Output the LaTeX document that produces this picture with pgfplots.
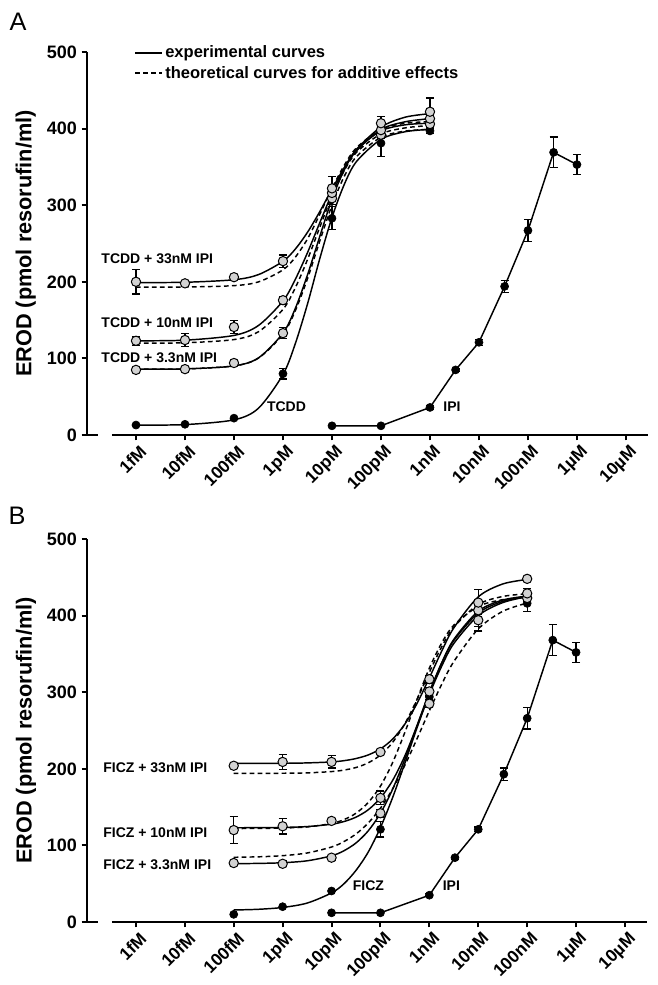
\documentclass[border=0pt]{standalone}
\usepackage{fontspec}
\setmainfont{Liberation Sans}
\usepackage{pgfplots}
\pgfplotsset{compat=1.18}

\pgfplotsset{
  erod/.style={
    scale only axis, height=287.25pt,
    xmin=-16, xmax=-4.55, ymin=0, ymax=500,
    axis lines=left, axis line style={-, line width=1.5pt},
    x axis line style={draw=none},
    tick align=outside, major tick length=4pt,
    tick style={line width=1.5pt, black},
    xtick={-15,...,-5},
    xticklabels={1fM,10fM,100fM,1pM,10pM,100pM,1nM,10nM,100nM,1µM,10µM},
    ytick={0,100,...,500},
    xticklabel style={font=\bfseries\fontsize{13}{13}\selectfont, rotate=45, anchor=north east, xshift=3pt},
    yticklabel style={font=\bfseries\fontsize{13.5}{14}\selectfont},
    /pgf/number format/assume math mode=true,
    ylabel={EROD (pmol resorufin/ml)},
    every axis y label/.style={at={(axis description cs:-0.109,0.5)}, rotate=90, anchor=center,
      font=\bfseries\fontsize{16.3}{19}\selectfont},
    clip=false,
  },
  expc/.style={smooth, no marks, line width=1.1pt, black},
  theo/.style={smooth, no marks, line width=1.1pt, black, dash pattern=on 3.5pt off 2.5pt},
  blk/.style={only marks, mark=*, mark size=3pt, mark options={fill=black, draw=black, line width=0.5pt},
    error bars/.cd, y dir=both, y explicit, error bar style={line width=0.9pt, black},
    error mark options={rotate=90, mark size=3pt, line width=0.9pt, black}},
  gry/.style={only marks, mark=*, mark size=3.5pt, mark options={fill=gray!35, draw=black, line width=0.75pt},
    error bars/.cd, y dir=both, y explicit, error bar style={line width=0.9pt, black},
    error mark options={rotate=90, mark size=3pt, line width=0.9pt, black}},
  ipi/.style={sharp plot, black, line width=1.1pt, mark=*, mark size=3pt,
    mark options={fill=black, draw=black, line width=0.5pt},
    error bars/.cd, y dir=both, y explicit, error bar style={line width=0.9pt, black},
    error mark options={rotate=90, mark size=3pt, line width=0.9pt, black}},
}
\tikzset{lbl/.style={font=\bfseries\fontsize{10.5}{12}\selectfont, anchor=west, inner sep=0pt}}

\begin{document}
\begin{tikzpicture}
\useasboundingbox (0,0) rectangle (492.75pt,-738.75pt);

\node[font=\fontsize{19}{20}\selectfont] at (13.5pt,-16.5pt) {A};
\node[font=\fontsize{19}{20}\selectfont] at (12.75pt,-387pt) {B};

% ---------------- panel A ----------------
\begin{axis}[erod, width=420.75pt, at={(65.25pt,-326.25pt)}, anchor=south west]
  \draw[line width=1.5pt] (axis cs:-16,0) -- (axis cs:-15.776,0);
  \draw[line width=1.2pt] (axis cs:-15.776,0) ++(0,-3pt) -- ++(0,6pt);
  \draw[line width=1.5pt] (axis cs:-15.49,0) -- (axis cs:-4.55,0);
  \draw[line width=1.2pt] (axis cs:-15.49,0) ++(0,-3pt) -- ++(0,6pt);

  % theoretical curves for additive effects
  \addplot[theo] coordinates {(-15,193) (-14,193.2) (-13,195) (-12.5,199.9) (-12,215.6) (-11.75,232) (-11.5,256) (-11.25,288) (-11,322) (-10.75,352) (-10.5,375) (-10,399) (-9.5,407) (-9,409)};
  \addplot[theo] coordinates {(-15,120) (-14,120.4) (-13,124.6) (-12.5,134.8) (-12,164) (-11.75,192) (-11.5,229) (-11.25,271) (-11,312) (-10.75,345) (-10.5,369) (-10,393) (-9.5,401) (-9,404)};
  \addplot[theo] coordinates {(-15,86) (-14,86.3) (-13,90.2) (-12.5,100.4) (-12,131.6) (-11.75,162) (-11.5,204) (-11.25,253) (-11,300) (-10.75,337.6) (-10.5,363.5) (-10,388.7) (-9.5,396.8) (-9,399)};

  % experimental curves
  \addplot[expc] coordinates {(-15,13) (-14,13.6) (-13,19.8) (-12.5,35) (-12,79) (-11.75,119) (-11.5,171) (-11.25,230) (-11,284) (-10.75,327) (-10.5,357) (-10,386) (-9.5,396) (-9,399)};
  \addplot[expc] coordinates {(-15,86) (-14,86.3) (-13,90.2) (-12.5,100.7) (-12,133) (-11.75,165) (-11.5,209) (-11.25,259) (-11,308) (-10.75,346) (-10.5,372) (-10,397) (-9.5,405) (-9,407)};
  \addplot[expc] coordinates {(-15,123) (-14,123.8) (-13,130) (-12.5,143) (-12,175) (-11.75,203) (-11.5,238) (-11.25,277) (-11,315) (-10.75,348) (-10.5,371) (-10,399) (-9.5,409) (-9,413)};
  \addplot[expc] coordinates {(-15,199) (-14,199.4) (-13,202.7) (-12.5,209.4) (-12,226.8) (-11.75,242.6) (-11.5,264.6) (-11.25,291.5) (-11,321) (-10.75,349) (-10.5,373) (-10,402) (-9.5,415) (-9,419.5)};

  % IPI alone
  \addplot[ipi] coordinates {(-11,12) +- (0,0) (-10,12) +- (0,0) (-9,36) +- (0,2) (-8.477,85) +- (0,2) (-8,121) +- (0,4) (-7.477,194) +- (0,8) (-7,267) +- (0,14) (-6.477,369) +- (0,20) (-6,353) +- (0,13)};

  % data points
  \addplot[blk] coordinates {(-15,13) +- (0,0) (-14,14) +- (0,0) (-13,22) +- (0,0) (-12,80) +- (0,7) (-11,283) +- (0,15) (-10,381) +- (0,17) (-9,397) +- (0,3)};
  \addplot[gry] coordinates {(-15,85) +- (0,3) (-14,86) +- (0,2) (-13,94) +- (0,3) (-12,133) +- (0,7) (-11,309) +- (0,8) (-10,392) +- (0,5) (-9,406) +- (0,4)};
  \addplot[gry] coordinates {(-15,123) +- (0,6) (-14,124) +- (0,8) (-13,141) +- (0,8) (-12,176) +- (0,5) (-11,316) +- (0,6) (-10,398) +- (0,5) (-9,413) +- (0,5)};
  \addplot[gry] coordinates {(-15,200) +- (0,16) (-14,198) +- (0,3) (-13,206) +- (0,3) (-12,227) +- (0,8) (-11,322) +- (0,15) (-10,407) +- (0,9) (-9,422) +- (0,18)};

  \node[lbl] at (axis cs:-15.71,230) {TCDD + 33nM IPI};
  \node[lbl] at (axis cs:-15.71,146) {TCDD + 10nM IPI};
  \node[lbl] at (axis cs:-15.71,100.5) {TCDD + 3.3nM IPI};
  \node[lbl] at (axis cs:-12.33,36.5) {TCDD};
  \node[lbl] at (axis cs:-8.73,36.5) {IPI};
\end{axis}

% legend of panel A
\draw[line width=1.1pt] (101.25pt,-39.75pt) -- (121.5pt,-39.75pt);
\draw[line width=1.1pt, dash pattern=on 3.5pt off 2.5pt] (101.25pt,-54.75pt) -- (121.5pt,-54.75pt);
\node[font=\bfseries\fontsize{12.4}{14}\selectfont, anchor=west, inner sep=0pt] at (123.75pt,-39.75pt) {experimental curves};
\node[font=\bfseries\fontsize{12.4}{14}\selectfont, anchor=west, inner sep=0pt] at (123.75pt,-54.75pt) {theoretical curves for additive effects};

% ---------------- panel B ----------------
\begin{axis}[erod, width=420pt, at={(65.25pt,-691.5pt)}, anchor=south west]
  \draw[line width=1.5pt] (axis cs:-16,0) -- (axis cs:-15.776,0);
  \draw[line width=1.2pt] (axis cs:-15.776,0) ++(0,-3pt) -- ++(0,6pt);
  \draw[line width=1.5pt] (axis cs:-15.49,0) -- (axis cs:-4.55,0);
  \draw[line width=1.2pt] (axis cs:-15.49,0) ++(0,-3pt) -- ++(0,6pt);

  % theoretical curves for additive effects
  \addplot[theo] coordinates {(-13,194) (-12.5,194.1) (-12,194.2) (-11.5,194.7) (-11,196.4) (-10.75,198.3) (-10.5,201.7) (-10.25,207.8) (-10,218) (-9.75,234.6) (-9.5,259) (-9.25,290.8) (-9,326) (-8.75,359) (-8.5,385) (-8,414.6) (-7.5,425) (-7,428.5)};
  \addplot[theo] coordinates {(-13,122) (-12.5,122.2) (-12,122.7) (-11.5,124.1) (-11,128.6) (-10.75,133.6) (-10.5,142) (-10.25,156) (-10,177.4) (-9.75,208.3) (-9.5,247.7) (-9.25,290.8) (-9,331.4) (-8.75,364) (-8.5,387.5) (-8,412) (-7.5,420.8) (-7,423.6)};
  \addplot[theo] coordinates {(-13,84.5) (-12.5,85.1) (-12,86.6) (-11.5,90.1) (-11,97.9) (-10.75,104.9) (-10.5,114.9) (-10.25,129.2) (-10,148.6) (-9.75,174) (-9.5,204.7) (-9.25,239.6) (-9,275.8) (-8.75,310) (-8.5,340) (-8,382.7) (-7.5,405.6) (-7,416.4)};

  % experimental curves
  \addplot[expc] coordinates {(-13,15.7) (-12.5,16.6) (-12,19) (-11.5,24.7) (-11,38) (-10.75,49.7) (-10.5,67.4) (-10.25,91.3) (-10,123.3) (-9.75,162.7) (-9.5,207.6) (-9.25,254) (-9,297) (-8.75,333.7) (-8.5,363.6) (-8,400) (-7.5,417) (-7,424.7)};
  \addplot[expc] coordinates {(-13,76.2) (-12.5,76.5) (-12,77.4) (-11.5,79.9) (-11,86.4) (-10.75,92.9) (-10.5,103.2) (-10.25,119) (-10,141.9) (-9.75,173.5) (-9.5,212.8) (-9.25,256.6) (-9,300) (-8.75,338) (-8.5,367.5) (-8,403.4) (-7.5,418.6) (-7,424.6)};
  \addplot[expc] coordinates {(-13,123) (-12.5,123.2) (-12,123.5) (-11.5,124.6) (-11,127.7) (-10.75,131.1) (-10.5,136.9) (-10.25,146.5) (-10,161.9) (-9.75,185) (-9.5,217) (-9.25,256.6) (-9,299) (-8.75,337.7) (-8.5,368.9) (-8,405.8) (-7.5,420.3) (-7,425.5)};
  \addplot[expc] coordinates {(-13,207) (-12.5,207.1) (-12,207.2) (-11.5,207.7) (-11,209) (-10.75,210.6) (-10.5,213.4) (-10.25,218.1) (-10,226) (-9.75,238.8) (-9.5,258.5) (-9.25,285.6) (-9,318.8) (-8.75,353.3) (-8.5,384) (-8,424.5) (-7.5,441.3) (-7,447.2)};

  % IPI alone
  \addplot[ipi] coordinates {(-11,12) +- (0,0) (-10,12) +- (0,0) (-9,35) +- (0,2) (-8.477,84) +- (0,2) (-8,121) +- (0,3) (-7.477,193) +- (0,8) (-7,266) +- (0,14) (-6.477,368) +- (0,20) (-6,352) +- (0,13)};

  % data points
  \addplot[blk] coordinates {(-13,10) +- (0,0) (-12,20) +- (0,0) (-11,40.5) +- (0,0) (-10,121) +- (0,10) (-9,294) +- (0,8) (-8,405) +- (0,6) (-7,416) +- (0,11)};
  \addplot[gry] coordinates {(-13,77) +- (0,2) (-12,76) +- (0,4) (-11,84) +- (0,3) (-10,142) +- (0,5) (-9,285) +- (0,5) (-8,394) +- (0,8) (-7,423) +- (0,4)};
  \addplot[gry] coordinates {(-13,120) +- (0,18) (-12,125) +- (0,10) (-11,132) +- (0,3) (-10,162) +- (0,9) (-9,301) +- (0,5) (-8,407) +- (0,27) (-7,429) +- (0,6)};
  \addplot[gry] coordinates {(-13,204) +- (0,3) (-12,209) +- (0,10) (-11,209) +- (0,8) (-10,222) +- (0,3) (-9,317) +- (0,5) (-8,417) +- (0,4) (-7,448) +- (0,3)};

  \node[lbl] at (axis cs:-15.67,201) {FICZ + 33nM IPI};
  \node[lbl] at (axis cs:-15.67,116.6) {FICZ + 10nM IPI};
  \node[lbl] at (axis cs:-15.67,74.4) {FICZ + 3.3nM IPI};
  \node[lbl] at (axis cs:-10.57,47) {FICZ};
  \node[lbl] at (axis cs:-8.73,47) {IPI};
\end{axis}
\end{tikzpicture}
\end{document}
